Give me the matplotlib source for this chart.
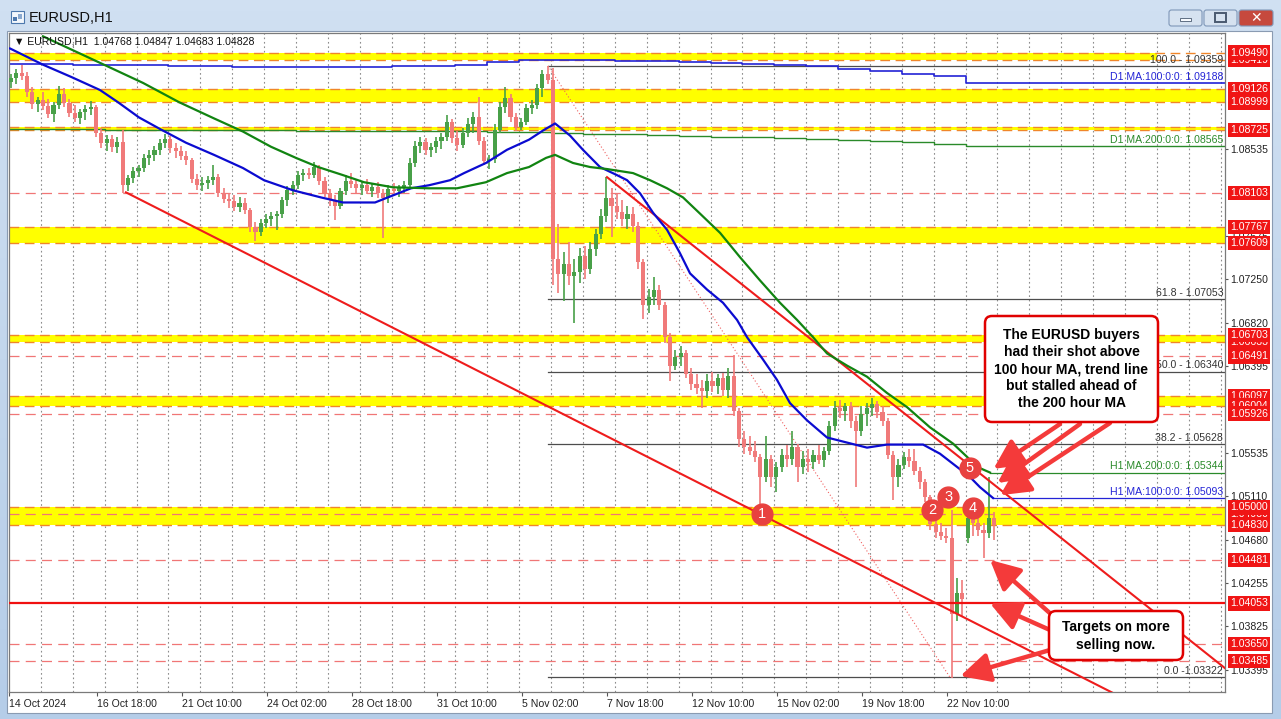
import numpy as np
import matplotlib
matplotlib.use("Agg")
import matplotlib.pyplot as plt
import matplotlib.transforms as mtransforms
from matplotlib.patches import Rectangle, FancyBboxPatch
from matplotlib.colors import LinearSegmentedColormap

plt.rcParams['font.family'] = ['Liberation Sans', 'DejaVu Sans']

# ---------------------------------------------------------------- data
symbol = "EURUSD,H1"
header_ohlc = "1.04768 1.04847 1.04683 1.04828"
candle_hours = 4          # each candle below aggregates four H1 bars

opens = [
    1.0920, 1.0924, 1.0929, 1.0926, 1.0910, 1.0898, 1.0902, 1.0896, 1.0888, 1.0897,
    1.0908, 1.0899, 1.0889, 1.0884, 1.0890, 1.0893, 1.0895, 1.0870, 1.0860, 1.0864,
    1.0856, 1.0861, 1.0818, 1.0825, 1.0832, 1.0835, 1.0845, 1.0848, 1.0853, 1.0860,
    1.0864, 1.0855, 1.0852, 1.0847, 1.0843, 1.0824, 1.0818, 1.0820, 1.0823, 1.0826,
    1.0810, 1.0804, 1.0802, 1.0797, 1.0800, 1.0794, 1.0777, 1.0772, 1.0781, 1.0785,
    1.0788, 1.0790, 1.0803, 1.0813, 1.0818, 1.0828, 1.0830, 1.0828, 1.0836, 1.0822,
    1.0810, 1.0803, 1.0798, 1.0812, 1.0822, 1.0819, 1.0815, 1.0818, 1.0812, 1.0816,
    1.0810, 1.0805, 1.0814, 1.0812, 1.0815, 1.0818, 1.0840, 1.0857, 1.0861, 1.0853,
    1.0856, 1.0862, 1.0866, 1.0880, 1.0865, 1.0858, 1.0870, 1.0878, 1.0885, 1.0862,
    1.0842, 1.0844, 1.0873, 1.0895, 1.0904, 1.0885, 1.0876, 1.0880, 1.0894, 1.0897,
    1.0914, 1.0928, 1.0922, 1.0745, 1.0730, 1.0740, 1.0728, 1.0732, 1.0748, 1.0735,
    1.0755, 1.0770, 1.0788, 1.0805, 1.0798, 1.0792, 1.0785, 1.0790, 1.0778, 1.0742,
    1.0700, 1.0708, 1.0715, 1.0700, 1.0668, 1.0640, 1.0648, 1.0652, 1.0632, 1.0622,
    1.0618, 1.0615, 1.0625, 1.0620, 1.0628, 1.0616, 1.0630, 1.0595, 1.0568, 1.0560,
    1.0556, 1.0550, 1.0530, 1.0548, 1.0530, 1.0540, 1.0552, 1.0548, 1.0560, 1.0540,
    1.0548, 1.0545, 1.0552, 1.0547, 1.0556, 1.0580, 1.0598, 1.0595, 1.0600, 1.0585,
    1.0575, 1.0592, 1.0598, 1.0602, 1.0594, 1.0585, 1.0552, 1.0530, 1.0542, 1.0550,
    1.0546, 1.0536, 1.0525, 1.0510, 1.0484, 1.0476, 1.0472, 1.0470, 1.0395, 1.0415,
    1.0470, 1.0490, 1.0485, 1.0478, 1.0475, 1.0490]
highs = [
    1.0928, 1.0933, 1.0937, 1.0930, 1.0915, 1.0905, 1.0910, 1.0903, 1.0900, 1.0916,
    1.0914, 1.0903, 1.0897, 1.0893, 1.0897, 1.0901, 1.0897, 1.0875, 1.0868, 1.0868,
    1.0866, 1.0873, 1.0828, 1.0836, 1.0838, 1.0849, 1.0853, 1.0857, 1.0864, 1.0869,
    1.0867, 1.0860, 1.0857, 1.0852, 1.0845, 1.0829, 1.0826, 1.0827, 1.0838, 1.0829,
    1.0815, 1.0810, 1.0808, 1.0806, 1.0805, 1.0796, 1.0782, 1.0785, 1.0790, 1.0792,
    1.0793, 1.0806, 1.0817, 1.0822, 1.0832, 1.0834, 1.0835, 1.0841, 1.0838, 1.0826,
    1.0814, 1.0808, 1.0815, 1.0828, 1.0830, 1.0824, 1.0822, 1.0824, 1.0820, 1.0821,
    1.0814, 1.0818, 1.0820, 1.0818, 1.0822, 1.0845, 1.0862, 1.0866, 1.0865, 1.0860,
    1.0866, 1.0870, 1.0887, 1.0883, 1.0872, 1.0875, 1.0884, 1.0890, 1.0905, 1.0866,
    1.0848, 1.0878, 1.0900, 1.0915, 1.0908, 1.0889, 1.0884, 1.0898, 1.0902, 1.0918,
    1.0932, 1.0936, 1.0934, 1.0780, 1.0752, 1.0762, 1.0745, 1.0756, 1.0758, 1.0762,
    1.0775, 1.0795, 1.0826, 1.0815, 1.0810, 1.0803, 1.0798, 1.0797, 1.0782, 1.0745,
    1.0716, 1.0727, 1.0720, 1.0703, 1.0672, 1.0655, 1.0659, 1.0655, 1.0638, 1.0632,
    1.0626, 1.0632, 1.0634, 1.0632, 1.0633, 1.0638, 1.0650, 1.0598, 1.0575, 1.0570,
    1.0566, 1.0553, 1.0570, 1.0552, 1.0545, 1.0558, 1.0562, 1.0575, 1.0563, 1.0556,
    1.0558, 1.0557, 1.0562, 1.0560, 1.0585, 1.0605, 1.0606, 1.0603, 1.0604, 1.0590,
    1.0600, 1.0603, 1.0608, 1.0605, 1.0600, 1.0588, 1.0556, 1.0548, 1.0555, 1.0558,
    1.0558, 1.0540, 1.0528, 1.0512, 1.0490, 1.0485, 1.0480, 1.0497, 1.0430, 1.0428,
    1.0500, 1.0500, 1.0498, 1.0485, 1.0530, 1.0495]
lows = [
    1.0914, 1.0918, 1.0922, 1.0905, 1.0893, 1.0890, 1.0892, 1.0884, 1.0880, 1.0893,
    1.0895, 1.0885, 1.0880, 1.0878, 1.0882, 1.0887, 1.0866, 1.0855, 1.0852, 1.0851,
    1.0850, 1.0810, 1.0812, 1.0820, 1.0826, 1.0831, 1.0838, 1.0842, 1.0848, 1.0855,
    1.0850, 1.0845, 1.0843, 1.0838, 1.0820, 1.0813, 1.0812, 1.0814, 1.0818, 1.0806,
    1.0800, 1.0796, 1.0793, 1.0792, 1.0790, 1.0772, 1.0763, 1.0768, 1.0776, 1.0778,
    1.0774, 1.0786, 1.0798, 1.0808, 1.0814, 1.0822, 1.0824, 1.0825, 1.0818, 1.0806,
    1.0798, 1.0784, 1.0795, 1.0808, 1.0815, 1.0810, 1.0808, 1.0809, 1.0806, 1.0805,
    1.0766, 1.0800, 1.0808, 1.0806, 1.0810, 1.0815, 1.0836, 1.0850, 1.0848, 1.0846,
    1.0850, 1.0854, 1.0862, 1.0860, 1.0852, 1.0855, 1.0866, 1.0870, 1.0858, 1.0838,
    1.0834, 1.0840, 1.0870, 1.0889, 1.0880, 1.0872, 1.0873, 1.0877, 1.0888, 1.0893,
    1.0905, 1.0918, 1.0720, 1.0712, 1.0704, 1.0720, 1.0682, 1.0722, 1.0725, 1.0730,
    1.0748, 1.0765, 1.0782, 1.0767, 1.0785, 1.0778, 1.0775, 1.0772, 1.0735, 1.0686,
    1.0692, 1.0700, 1.0695, 1.0662, 1.0625, 1.0636, 1.0640, 1.0628, 1.0616, 1.0612,
    1.0598, 1.0608, 1.0614, 1.0612, 1.0610, 1.0608, 1.0590, 1.0560, 1.0553, 1.0552,
    1.0545, 1.0503, 1.0525, 1.0520, 1.0515, 1.0535, 1.0540, 1.0542, 1.0525, 1.0533,
    1.0535, 1.0538, 1.0543, 1.0540, 1.0552, 1.0575, 1.0588, 1.0585, 1.0578, 1.0520,
    1.0570, 1.0580, 1.0590, 1.0588, 1.0580, 1.0548, 1.0507, 1.0520, 1.0538, 1.0540,
    1.0532, 1.0518, 1.0505, 1.0478, 1.0470, 1.0468, 1.0465, 1.0332, 1.0388, 1.0392,
    1.0465, 1.0472, 1.0472, 1.0450, 1.0470, 1.0468]
closes = [
    1.0924, 1.0929, 1.0926, 1.0910, 1.0898, 1.0902, 1.0896, 1.0888, 1.0897, 1.0908,
    1.0899, 1.0889, 1.0884, 1.0890, 1.0893, 1.0895, 1.0870, 1.0860, 1.0864, 1.0856,
    1.0861, 1.0818, 1.0825, 1.0832, 1.0835, 1.0845, 1.0848, 1.0853, 1.0860, 1.0864,
    1.0855, 1.0852, 1.0847, 1.0843, 1.0824, 1.0818, 1.0820, 1.0823, 1.0826, 1.0810,
    1.0804, 1.0802, 1.0797, 1.0800, 1.0794, 1.0777, 1.0772, 1.0781, 1.0785, 1.0788,
    1.0790, 1.0803, 1.0813, 1.0818, 1.0828, 1.0830, 1.0828, 1.0836, 1.0822, 1.0810,
    1.0803, 1.0798, 1.0812, 1.0822, 1.0819, 1.0815, 1.0818, 1.0812, 1.0816, 1.0810,
    1.0805, 1.0814, 1.0812, 1.0815, 1.0818, 1.0840, 1.0857, 1.0861, 1.0853, 1.0856,
    1.0862, 1.0866, 1.0880, 1.0865, 1.0858, 1.0870, 1.0878, 1.0885, 1.0862, 1.0842,
    1.0844, 1.0873, 1.0895, 1.0904, 1.0885, 1.0876, 1.0880, 1.0894, 1.0897, 1.0914,
    1.0928, 1.0922, 1.0745, 1.0730, 1.0740, 1.0728, 1.0732, 1.0748, 1.0735, 1.0755,
    1.0770, 1.0788, 1.0805, 1.0798, 1.0792, 1.0785, 1.0790, 1.0778, 1.0742, 1.0700,
    1.0708, 1.0715, 1.0700, 1.0668, 1.0640, 1.0648, 1.0652, 1.0632, 1.0622, 1.0618,
    1.0615, 1.0625, 1.0620, 1.0628, 1.0616, 1.0630, 1.0595, 1.0568, 1.0560, 1.0556,
    1.0550, 1.0530, 1.0548, 1.0530, 1.0540, 1.0552, 1.0548, 1.0560, 1.0540, 1.0548,
    1.0545, 1.0552, 1.0547, 1.0556, 1.0580, 1.0598, 1.0595, 1.0600, 1.0585, 1.0575,
    1.0592, 1.0598, 1.0602, 1.0594, 1.0585, 1.0552, 1.0530, 1.0542, 1.0550, 1.0546,
    1.0536, 1.0525, 1.0510, 1.0484, 1.0476, 1.0472, 1.0470, 1.0395, 1.0415, 1.0410,
    1.0490, 1.0485, 1.0478, 1.0475, 1.0490, 1.0483]

# hourly moving averages (bar index, price)
ma100_bars = [0.8, 25.6, 46.7, 68.5, 82, 97.8, 114.4, 133.2, 154.3, 176.1, 191.9, 213.8,
              234.8, 251.4, 275.5, 289, 302.6, 316.1, 332, 342.5, 359, 374.8, 391.4,
              401.9, 411, 422.3, 432, 444.8, 457.6, 465.2, 475, 484.7, 495.3, 505,
              512.6, 525.4, 537.4, 548, 555.5, 567.5, 578, 587.8, 600.6, 615.7, 630.7,
              645.8, 660.8, 675.9, 688, 700.7, 713.5, 723.3, 730.8, 740.6]
ma100_vals = [1.0953, 1.0937, 1.0925, 1.0912, 1.0900, 1.0885, 1.0873, 1.0860, 1.0848,
              1.0835, 1.0823, 1.0813, 1.0806, 1.0801, 1.0801, 1.0808, 1.0815, 1.0818,
              1.0823, 1.0830, 1.0840, 1.0853, 1.0863, 1.0872, 1.0879, 1.0867, 1.0853,
              1.0836, 1.0828, 1.0823, 1.0810, 1.0791, 1.0774, 1.0751, 1.0731, 1.0715,
              1.0702, 1.0685, 1.0668, 1.0646, 1.0626, 1.0603, 1.0586, 1.0569, 1.0564,
              1.0559, 1.0562, 1.0562, 1.0562, 1.0553, 1.0540, 1.0530, 1.0520, 1.05093]
ma200_bars = [25.6, 71.5, 100.9, 128, 154.3, 176.1, 197.2, 216, 232.6, 251.4, 267.2,
              289, 316.1, 337.2, 359, 374.8, 391.4, 404.2, 411, 424.5, 437.3, 450.1,
              469.7, 482.5, 495.3, 507.3, 520.1, 535.2, 550.2, 565.3, 580.3, 593.2,
              605.2, 615.7, 630.7, 645.8, 660.8, 675.9, 693.2, 710.5, 721, 728.6, 738.4]
ma200_vals = [1.0965, 1.0937, 1.0919, 1.0900, 1.0884, 1.0871, 1.0856, 1.0845, 1.0836,
              1.0828, 1.0821, 1.0816, 1.0815, 1.0815, 1.0821, 1.0830, 1.0836, 1.0845,
              1.0848, 1.0840, 1.0836, 1.0834, 1.0830, 1.0823, 1.0815, 1.0806, 1.0790,
              1.0771, 1.0747, 1.0724, 1.0702, 1.0685, 1.0668, 1.0652, 1.0640, 1.0629,
              1.0613, 1.0599, 1.0579, 1.0563, 1.0550, 1.0540, 1.05344]
ma100_last, ma200_last = 1.05093, 1.05344

# daily moving averages, one value per trading day
d1_ma100 = [1.0938, 1.0938, 1.0937, 1.0937, 1.0937, 1.0936, 1.0936, 1.0935, 1.0935, 1.0935,
            1.0935, 1.0935, 1.0936, 1.0936, 1.0937, 1.0940, 1.0942, 1.0942, 1.0942, 1.0941,
            1.0941, 1.0940, 1.0939, 1.0938, 1.0937, 1.0936, 1.0933, 1.0931, 1.0928, 1.0926,
            1.09188]
d1_ma200 = [1.0874, 1.0874, 1.0874, 1.0873, 1.0873, 1.0873, 1.0873, 1.0873, 1.0873, 1.0872,
            1.0872, 1.0872, 1.0872, 1.0872, 1.0872, 1.0871, 1.0871, 1.0870, 1.0869, 1.0869,
            1.0868, 1.0867, 1.0866, 1.0866, 1.0865, 1.0864, 1.0863, 1.0862, 1.0861, 1.0859,
            1.08565]

# support / resistance zones (top, bottom, last bar of the fill) and levels
zones = [(1.09490, 1.09419, 864), (1.09126, 1.08999, None), (1.08755, 1.08725, None),
         (1.07767, 1.07609, None), (1.06703, 1.06633, None), (1.06097, 1.06004, None),
         (1.05000, 1.04830, None)]
dashed_levels = [1.08103, 1.06491, 1.05926, 1.04930, 1.04481, 1.03650, 1.03485]
solid_level = 1.04053
level_labels = [1.09419, 1.09490, 1.09126, 1.08999, 1.08725, 1.08103, 1.07767, 1.07609,
                1.06633, 1.06703, 1.06491, 1.06097, 1.06004, 1.05926, 1.04930, 1.05000,
                1.04830, 1.04481, 1.04053, 1.03650, 1.03485]

# Fibonacci retracement of the 5 Nov high -> 22 Nov low
fib_start_bar, fib_end_bar = 405.7, 708.3
fib_levels = [1.09359, 1.07053, 1.06340, 1.05628, 1.03322]
fib_texts = ["100.0 - 1.09359", "61.8 - 1.07053", "50.0 - 1.06340", "38.2 - 1.05628",
             "0.0 -1.03322"]

# trend lines: two anchor points each (bar, price)
upper_trend = [(450.1, 1.0826), (721.0, 1.05437)]
lower_trend = [(88.0, 1.0811), (566.8, 1.04925)]

# numbered touches (bar, price)
touch_labels = ["1", "2", "3", "4", "5"]
touch_bars = [566.8, 694.7, 706.8, 725.6, 723.3]
touch_prices = [1.0493, 1.0497, 1.0510, 1.0499, 1.0539]

price_ticks = [1.08535, 1.07675, 1.07250, 1.06820, 1.06395, 1.05535, 1.05110, 1.04680,
               1.04255, 1.03825, 1.03395]
time_tick_bars = [0, 66, 130, 194, 258, 322, 386, 450, 514, 578, 642, 706]
time_tick_labels = ["14 Oct 2024", "16 Oct 18:00", "21 Oct 10:00", "24 Oct 02:00",
                    "28 Oct 18:00", "31 Oct 10:00", "5 Nov 02:00", "7 Nov 18:00",
                    "12 Nov 10:00", "15 Nov 02:00", "19 Nov 18:00", "22 Nov 10:00"]

note_buyers = ("The EURUSD buyers\nhad their shot above\n100 hour MA, trend line\n"
               "but stalled ahead of\nthe 200 hour MA")
note_targets = "Targets on more\nselling now."

# ---------------------------------------------------------------- figure
W, H = 1281, 719
fig = plt.figure(figsize=(W / 100, H / 100), dpi=100)
pxT = mtransforms.Affine2D().scale(1, -1).translate(0, H)   # pixel coords from top-left

# window frame
bg = fig.add_axes([0, 0, 1, 1], zorder=0)
bg.set_xlim(0, W)
bg.set_ylim(H, 0)
bg.axis('off')
frame_cmap = LinearSegmentedColormap.from_list('frame', ['#d0e0f2', '#c2d6ec', '#b5cde8'])
bg.imshow(np.linspace(0, 1, 64).reshape(-1, 1), cmap=frame_cmap, extent=[0, W, H, 0],
          aspect='auto', zorder=0)
bg.add_patch(Rectangle((7, 31), 1265, 682, fc='white', ec='#8a9bb2', lw=0.8, zorder=1))
# title icon and caption
bg.add_patch(Rectangle((11, 11), 13, 12, fc='#f3f7fc', ec='#4d78ad', lw=0.8, zorder=2))
bg.add_patch(Rectangle((13, 17), 4, 4, fc='#4d78ad', ec='none', zorder=3))
bg.add_patch(Rectangle((18, 14), 4, 5, fc='#8aa9cf', ec='none', zorder=3))
bg.text(29, 18, symbol, fontsize=10.5, va='center', ha='left', color='#101010', zorder=3)
# window buttons
for x0, w, fc in [(1169, 33, '#d6e2f0'), (1204, 33, '#d6e2f0'), (1239, 34, '#c6493d')]:
    bg.add_patch(FancyBboxPatch((x0, 10), w, 16, boxstyle='round,pad=0,rounding_size=2.5',
                                fc=fc, ec='#7f97b8', lw=0.8, zorder=2))
bg.add_patch(Rectangle((1180, 18), 11, 3, fc='#f8fbff', ec='#4a5a70', lw=0.6, zorder=3))
bg.add_patch(Rectangle((1215, 13), 11, 9, fc='none', ec='#4a5a70', lw=1.4, zorder=3))
bg.text(1256, 18.5, "✕", fontsize=10, fontweight='bold', ha='center', va='center',
        color='white', family='DejaVu Sans', zorder=3)

# chart axes
ax = fig.add_axes([9 / W, 1 - 692 / H, 1216 / W, 659 / H], zorder=2)
x_right = 1216 / 1.3286
y_top, y_bottom = 1.09683, 1.031776
ax.set_xlim(0, x_right)
ax.set_ylim(y_bottom, y_top)
ax.set_facecolor('white')
for s in ax.spines.values():
    s.set_color('#7a7a7a')
    s.set_linewidth(0.9)

# daily grid
for d in range(1, 39):
    ax.axvline(24 * d, color='#8c8c8c', lw=0.8, ls=(0, (1.5, 2.5)), zorder=0.5)

# zones and horizontal levels
zone_color, zone_edge = '#ffff00', '#f0862a'
for top, bot, end_bar in zones:
    xmax = 1.0 if end_bar is None else end_bar / x_right
    ax.axhspan(bot, top, xmax=xmax, color=zone_color, lw=0, zorder=1)
    for lv in (top, bot):
        ax.axhline(lv, color=zone_edge, lw=1.0, ls=(0, (7, 4)), zorder=1.2)
for lv in dashed_levels:
    ax.axhline(lv, color='#f07676', lw=0.9, ls=(0, (8, 5)), zorder=1.2)
ax.axhline(solid_level, color='#f01010', lw=1.6, zorder=4)

# Fibonacci lines
for lv, txt in zip(fib_levels, fib_texts):
    ax.plot([fib_start_bar, x_right], [lv, lv], color='#4d4d4d', lw=0.9, zorder=1.5)
    ax.text(0.9985, lv + 0.00012, txt, transform=ax.get_yaxis_transform(), ha='right',
            va='bottom', fontsize=7.6, color='#333333', zorder=6)
ax.plot([fib_start_bar, fib_end_bar], [fib_levels[0], fib_levels[-1]], color='#f06060',
        lw=0.8, ls=(0, (1, 2)), zorder=1.6)

# daily MAs
day_x = [24 * d for d in range(len(d1_ma100))] + [x_right]
ax.plot(day_x, d1_ma100 + [d1_ma100[-1]], drawstyle='steps-post', color='#2323d6', lw=1.2,
        zorder=2)
ax.plot(day_x, d1_ma200 + [d1_ma200[-1]], drawstyle='steps-post', color='#2a8a2a', lw=1.0,
        zorder=2)
ax.text(0.9985, d1_ma100[-1] + 0.00012, "D1 MA:100:0:0: 1.09188",
        transform=ax.get_yaxis_transform(), ha='right', va='bottom', fontsize=7.6,
        color='#2323d6', zorder=6)
ax.text(0.9985, d1_ma200[-1] + 0.00012, "D1 MA:200:0:0: 1.08565",
        transform=ax.get_yaxis_transform(), ha='right', va='bottom', fontsize=7.6,
        color='#2a8a2a', zorder=6)

# candles
bull_color, bear_color = '#48a048', '#f07a7a'
xs = np.array([candle_hours * k + 1.5 for k in range(len(closes))])
o, h, l, c = map(np.array, (opens, highs, lows, closes))
cols = [bull_color if cc >= oo else bear_color for oo, cc in zip(o, c)]
ax.vlines(xs, l, h, colors=cols, lw=1.2, zorder=3)
body_bottom = np.minimum(o, c)
body_height = np.maximum(np.abs(c - o), 0.00003)
ax.bar(xs, body_height, bottom=body_bottom, width=3.1, color=cols, lw=0, zorder=3)

# hourly MAs
ax.plot(ma100_bars, ma100_vals, color='#0b0bd0', lw=1.6, zorder=5,
        solid_joinstyle='round')
ax.plot(ma200_bars, ma200_vals, color='#118411', lw=1.6, zorder=5,
        solid_joinstyle='round')
ax.plot([ma100_bars[-1], x_right], [ma100_last] * 2, color='#2323d6', lw=0.9, zorder=2)
ax.plot([ma200_bars[-1], x_right], [ma200_last] * 2, color='#2a8a2a', lw=0.9, zorder=2)
ax.text(0.9985, ma200_last + 0.00012, "H1 MA:200:0:0: 1.05344",
        transform=ax.get_yaxis_transform(), ha='right', va='bottom', fontsize=7.6,
        color='#2a8a2a', zorder=6)
ax.text(0.9985, ma100_last + 0.00012, "H1 MA:100:0:0: 1.05093",
        transform=ax.get_yaxis_transform(), ha='right', va='bottom', fontsize=7.6,
        color='#2323d6', zorder=6)

# trend lines, extended to the right as rays
for (xa, ya), (xb, yb) in (upper_trend, lower_trend):
    slope = (yb - ya) / (xb - xa)
    ax.plot([xa, x_right], [ya, ya + slope * (x_right - xa)], color='#ee1c1c', lw=1.5,
            zorder=4)

# numbered touches
ax.plot(touch_bars, touch_prices, 'o', ms=15, color='#e8413f', mec='#e8413f', zorder=18)
for t, bx, py in zip(touch_labels, touch_bars, touch_prices):
    ax.text(bx, py, t, ha='center', va='center', fontsize=10.5, color='white', zorder=19)

# axes ticks and labels
ax.yaxis.tick_right()
ax.set_yticks(price_ticks)
ax.set_yticklabels([f"{p:.5f}" for p in price_ticks])
ax.tick_params(axis='y', length=2.2, width=0.8, color='#555555', pad=1.5, labelsize=7.6,
               labelcolor='#222222')
ax.set_xticks(time_tick_bars)
ax.set_xticklabels(time_tick_labels)
ax.tick_params(axis='x', length=3, width=0.8, color='#555555', pad=2, labelsize=7.6,
               labelcolor='#222222')
for lbl in ax.get_xticklabels():
    lbl.set_horizontalalignment('left')

# level price tags on the price scale
for lv in level_labels:
    ax.text(1.0041, lv, f"{lv:.5f}", transform=ax.get_yaxis_transform(), ha='left',
            va='center', fontsize=7.6, color='white', zorder=30, clip_on=False,
            bbox=dict(boxstyle='square,pad=0.22', fc='#f01515', ec='none'))

# header line
ax.text(14, 41, "▼ " + symbol + "  " + header_ohlc, transform=pxT, fontsize=7.6,
        ha='left', va='center', color='#111111', zorder=30)

# notes with arrows
note_red = '#e00000'
ax.add_patch(FancyBboxPatch((985, 316), 173, 106, boxstyle='round,pad=0,rounding_size=7',
                            transform=pxT, fc='white', ec=note_red, lw=1.8, zorder=40,
                            clip_on=False))
ax.text(1071.5, 369, note_buyers, transform=pxT, ha='center', va='center', fontsize=10,
        fontweight='bold', linespacing=1.28, color='black', zorder=41)
ax.add_patch(FancyBboxPatch((1049, 611), 134, 49, boxstyle='round,pad=0,rounding_size=7',
                            transform=pxT, fc='white', ec=note_red, lw=1.8, zorder=40,
                            clip_on=False))
ax.text(1116, 636, note_targets, transform=pxT, ha='center', va='center', fontsize=10,
        fontweight='bold', linespacing=1.28, color='black', zorder=41)

arrow_red = '#f43a3a'
arrow_props = dict(arrowstyle='-|>,head_length=0.9,head_width=0.45', color=arrow_red,
                   lw=3.2, mutation_scale=20, shrinkA=0, shrinkB=0)
buyer_arrows = [((741, 1.0538), (1060, 424)), ((744, 1.0524), (1080, 424)),
                ((746, 1.0512), (1110, 423))]
target_arrows = [((738.4, 1.04481), (1052, 615)), ((738.4, 1.04053), (1050, 630)),
                 ((716.0, 1.03335), (1050, 650))]
for (bx, py), (tx, ty) in buyer_arrows + target_arrows:
    ax.annotate('', xy=(bx, py), xycoords='data', xytext=(tx, H - ty),
                textcoords='figure pixels', arrowprops=arrow_props,
                annotation_clip=False, zorder=39)

fig.savefig("out.png", dpi=100)
